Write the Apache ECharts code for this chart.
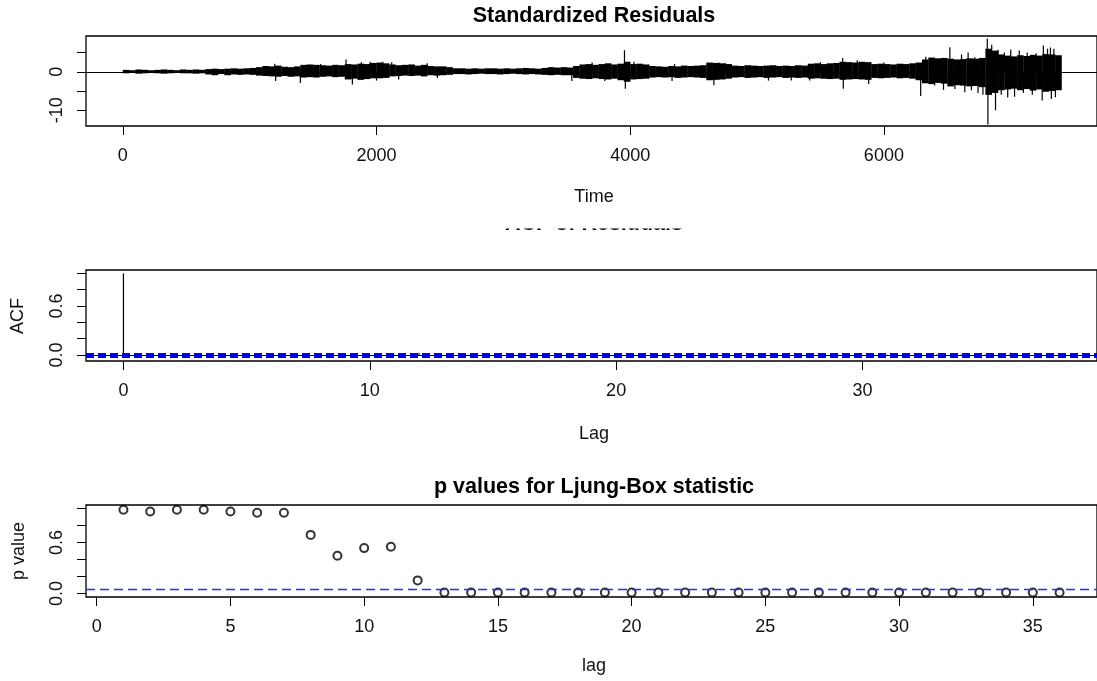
<!DOCTYPE html>
<html><head><meta charset="utf-8">
<script src="https://cdn.jsdelivr.net/npm/echarts@6/dist/echarts.min.js"></script>
<style>html,body{margin:0;padding:0;background:#fff}#c{width:1097px;height:681px}</style>
</head><body><div id="c"></div>
<script>
// ---------- Panel 1: Standardized Residuals (envelope read per 50-step bucket) ----------
const resBucketWidth = 50;
const resCoreHi = [
  0.5,0.4,0.6,0.5,0.4,0.5,0.6,0.5,0.4,0.6,
  0.5,0.6,0.5,0.7,0.8,0.7,0.8,0.9,0.8,0.9,
  1.0,1.2,1.5,1.4,1.6,1.3,1.2,1.4,1.8,1.9,
  1.8,1.7,1.6,1.8,1.7,2.0,1.9,2.1,2.0,2.3,
  2.4,2.2,1.9,1.7,1.8,1.9,1.6,1.8,1.5,1.4,
  1.4,1.2,0.9,0.9,0.8,0.9,0.8,0.9,0.9,0.8,
  0.9,0.8,0.9,1.0,0.9,0.8,1.0,1.2,1.1,1.2,
  1.1,1.5,1.9,2.0,1.8,2.0,2.2,1.9,2.1,2.6,
  2.0,2.1,1.9,1.5,1.4,1.3,1.5,1.4,1.6,1.5,
  1.6,1.7,2.4,2.3,2.2,2.0,1.6,1.5,1.7,1.6,
  1.5,1.6,1.7,1.5,1.6,1.5,1.7,1.6,2.1,2.2,
  2.0,2.2,2.3,2.6,2.5,2.4,2.6,2.5,2.0,2.1,
  2.0,1.9,2.1,2.0,2.2,2.4,3.2,3.7,3.5,3.6,
  3.4,3.2,3.3,3.5,3.4,3.6,6.0,5.5,4.5,4.2,
  4.0,4.3,4.1,4.4,4.2,4.6,4.5,4.3
];
const resCoreLo = [
  -0.4,-0.3,-0.5,-0.4,-0.3,-0.4,-0.5,-0.4,-0.3,-0.4,
  -0.4,-0.5,-0.4,-0.7,-0.9,-0.6,-0.9,-0.7,-0.8,-0.7,
  -0.8,-1.0,-1.1,-1.2,-1.3,-1.1,-1.3,-1.2,-1.5,-1.4,
  -1.5,-1.3,-1.2,-1.4,-1.3,-2.0,-1.8,-2.1,-1.9,-1.7,
  -1.7,-1.6,-1.2,-1.1,-1.0,-1.1,-1.0,-1.2,-0.9,-1.0,
  -0.9,-0.8,-0.6,-0.6,-0.7,-0.6,-0.5,-0.6,-0.6,-0.7,
  -0.6,-0.5,-0.6,-0.7,-0.6,-0.7,-0.8,-0.9,-0.8,-0.9,
  -0.9,-1.6,-1.8,-1.9,-1.7,-1.9,-2.0,-1.8,-2.2,-2.6,
  -2.0,-1.9,-1.8,-1.5,-1.4,-1.5,-1.4,-1.6,-1.5,-1.4,
  -1.5,-1.6,-2.2,-2.1,-2.0,-1.8,-1.5,-1.4,-1.6,-1.5,
  -1.4,-1.6,-1.5,-1.4,-1.6,-1.5,-1.6,-1.5,-1.8,-1.7,
  -1.8,-1.9,-1.8,-2.1,-2.0,-1.9,-2.0,-2.1,-1.6,-1.7,
  -1.6,-1.5,-1.7,-1.6,-1.8,-2.2,-3.0,-3.2,-2.9,-3.1,
  -3.8,-3.5,-3.6,-3.8,-3.7,-4.0,-6.0,-5.5,-4.8,-4.6,
  -4.4,-4.8,-4.5,-4.9,-4.6,-5.2,-5.0,-4.8
];
const resSpikeT = [1198,1205,1400,1560,1760,1810,1880,1950,2000,2050,2120,2175,2400,2480,
  3540,3700,3800,3955,3962,4030,4330,4350,4660,4700,4750,5090,5270,5415,5500,5675,5680,5790,
  5880,6000,6290,6330,6400,6470,6520,6560,6612,6638,6664,6690,6716,6742,6781,6815,6820,6850,
  6880,6900,6925,6950,6976,7000,7030,7067,7100,7130,7170,7200,7248,7257,7290,7313,7320,7340,7352];
const resSpikeV = [2.1,-2.4,-2.9,2.0,3.2,-3.3,2.5,2.6,-2.3,2.6,2.5,-2.0,2.2,-1.6,
  -2.4,2.4,-2.4,5.6,-4.4,2.6,-2.4,2.0,-3.5,2.4,2.2,-2.3,-2.3,-2.3,2.5,3.6,-4.4,3.0,
  -3.2,2.4,-6.3,3.9,-3.6,-4.7,6.4,-4.5,4.5,-5.3,5.0,-4.8,3.8,-5.5,-6.0,8.6,-13.7,7.0,
  -10.0,5.7,-6.0,5.0,-6.7,5.8,-6.5,5.5,-5.5,5.0,-6.0,4.8,-7.5,6.8,6.0,6.3,-7.1,6.0,-6.6];
const resTimeTicks = [0, 2000, 4000, 6000];
const resYTicks = [-10, -5, 0, 5];
const resYLabels = [-10, 0];

// ---------- Panel 2: ACF of Residuals ----------
const acfLags = [0,1,2,3,4,5,6,7,8,9,10,11,12,13,14,15,16,17,18,19,20,21,22,23,24,25,26,27,28,29,30,31,32,33,34,35,36,37,38];
const acfValues = [1,0.005,-0.004,0.003,-0.006,0.004,-0.003,-0.012,0.006,0.002,-0.005,0.004,0.022,-0.012,0.003,
  -0.004,0.002,-0.011,-0.003,0.005,0.012,-0.004,-0.012,0.003,0.004,-0.006,0.009,0.018,-0.010,0.004,
  -0.003,0.002,-0.005,0.004,0.003,0.006,0.025,-0.003,0.004];
const acfCI = 0.023;
const acfXTicks = [0, 10, 20, 30];
const unitTicks = [0, 0.2, 0.4, 0.6, 0.8, 1.0];
const unitLabels = [0, 0.6];

// ---------- Panel 3: p values for Ljung-Box statistic ----------
const lbLags = [1,2,3,4,5,6,7,8,9,10,11,12,13,14,15,16,17,18,19,20,21,22,23,24,25,26,27,28,29,30,31,32,33,34,35,36];
const lbPValues = [0.984,0.964,0.984,0.984,0.964,0.949,0.949,0.689,0.445,0.534,0.550,0.155,
  0.012,0.012,0.012,0.012,0.012,0.012,0.012,0.012,0.012,0.012,0.012,0.012,
  0.012,0.012,0.012,0.012,0.012,0.012,0.012,0.012,0.012,0.012,0.012,0.012];
const lbThreshold = 0.05;
const lbXTicks = [0, 5, 10, 15, 20, 25, 30, 35];

// ---------- chart ----------
const FONT = '"Liberation Sans", Arial, sans-serif';
const TXT = '#111';
const chart = echarts.init(document.getElementById('c'), null, {renderer: 'canvas'});

function xAx(gi, min, max, ticks) {
  return {type: 'value', gridIndex: gi, min: min, max: max, position: 'bottom',
    axisLine: {show: false, onZero: false}, splitLine: {show: false},
    axisTick: {show: true, inside: false, length: 9, customValues: ticks, lineStyle: {color: '#000', width: 1}},
    axisLabel: {show: true, customValues: ticks, margin: 21, color: TXT, fontSize: 18, fontFamily: FONT,
      formatter: v => String(v)}};
}
function yAx(gi, min, max, ticks, labels, fmt) {
  return {type: 'value', gridIndex: gi, min: min, max: max, position: 'left',
    axisLine: {show: false, onZero: false}, splitLine: {show: false},
    axisTick: {show: true, inside: false, length: 9, customValues: ticks, lineStyle: {color: '#000', width: 1}},
    axisLabel: {show: true, customValues: labels, rotate: 90, margin: 20, color: TXT, fontSize: 18, fontFamily: FONT,
      formatter: fmt}};
}
const gridBase = {show: true, borderColor: '#000', borderWidth: 1.3, backgroundColor: 'transparent', containLabel: false};

const coreData = resCoreHi.map((h, i) => [i * resBucketWidth, resCoreLo[i], h]);
const spikeData = resSpikeT.map((t, i) => [t, resSpikeV[i]]);
const acfData = acfLags.map((l, i) => [l, acfValues[i]]);
const lbData = lbLags.map((l, i) => [l, lbPValues[i]]);

function vline(params, api) {
  const a = api.coord([api.value(0), 0]);
  const b = api.coord([api.value(0), api.value(1)]);
  return {type: 'line', shape: {x1: a[0], y1: a[1], x2: b[0], y2: b[1]}, style: {stroke: '#000', lineWidth: 1.2}};
}

const option = {
  animation: false,
  backgroundColor: '#fff',
  grid: [
    Object.assign({left: 86, top: 36, width: 1022, height: 90}, gridBase),
    Object.assign({left: 86, top: 270, width: 1020, height: 91}, gridBase),
    Object.assign({left: 86, top: 505, width: 1022, height: 92}, gridBase)
  ],
  xAxis: [
    xAx(0, -290, 7680, resTimeTicks),
    xAx(1, -1.52, 39.52, acfXTicks),
    xAx(2, -0.4, 37.4, lbXTicks)
  ],
  yAxis: [
    yAx(0, -14.1, 9.3, resYTicks, resYLabels, v => String(v)),
    yAx(1, -0.075, 1.041, unitTicks, unitLabels, v => v.toFixed(1)),
    yAx(2, -0.04, 1.04, unitTicks, unitLabels, v => v.toFixed(1))
  ],
  series: [
    {type: 'custom', xAxisIndex: 0, yAxisIndex: 0, data: coreData, encode: {x: 0, y: [1, 2]},
      renderItem: function (params, api) {
        const t0 = api.value(0);
        const p1 = api.coord([t0, api.value(2)]);
        const p2 = api.coord([t0 + resBucketWidth, api.value(1)]);
        return {type: 'rect', shape: {x: p1[0], y: p1[1], width: p2[0] - p1[0] + 0.3, height: p2[1] - p1[1]},
          style: {fill: '#000'}};
      },
      markLine: {silent: true, symbol: ['none', 'none'], label: {show: false},
        lineStyle: {color: '#000', type: 'solid', width: 1}, data: [{yAxis: 0}]}
    },
    {type: 'custom', xAxisIndex: 0, yAxisIndex: 0, data: spikeData, encode: {x: 0, y: 1}, renderItem: vline},
    {type: 'custom', xAxisIndex: 1, yAxisIndex: 1, data: acfData, encode: {x: 0, y: 1}, renderItem: vline,
      markLine: {silent: true, symbol: ['none', 'none'], label: {show: false},
        data: [
          {yAxis: 0, lineStyle: {color: '#000', type: 'solid', width: 1}},
          {yAxis: acfCI, lineStyle: {color: '#0000ff', type: [8, 4], width: 1.8}},
          {yAxis: -acfCI, lineStyle: {color: '#0000ff', type: [8, 4], width: 1.8}}
        ]}
    },
    {type: 'scatter', xAxisIndex: 2, yAxisIndex: 2, data: lbData, symbol: 'emptyCircle', symbolSize: 8,
      itemStyle: {color: '#000', borderColor: '#000', borderWidth: 1.05},
      markLine: {silent: true, symbol: ['none', 'none'], label: {show: false},
        lineStyle: {color: '#2b2bff', type: [9, 5], width: 1.3}, data: [{yAxis: lbThreshold}]}
    }
  ],
  graphic: [
    {type: 'text', x: 594, y: 16, style: {text: 'Standardized Residuals', font: 'bold 21.5px ' + FONT, fill: '#000',
      textAlign: 'center', textVerticalAlign: 'middle'}},
    {type: 'text', x: 594, y: 197, style: {text: 'Time', font: '18px ' + FONT, fill: TXT, textAlign: 'center', textVerticalAlign: 'middle'}},
    {type: 'text', x: 594, y: 224, z: 1, style: {text: 'ACF of Residuals', font: 'bold 21.5px ' + FONT, fill: '#000',
      textAlign: 'center', textVerticalAlign: 'middle'}},
    {type: 'rect', z: 5, shape: {x: 470, y: 207, width: 250, height: 21.5}, style: {fill: '#fff'}},
    {type: 'text', x: 594, y: 434, style: {text: 'Lag', font: '18px ' + FONT, fill: TXT, textAlign: 'center', textVerticalAlign: 'middle'}},
    {type: 'text', x: 18, y: 316, rotation: Math.PI / 2, style: {text: 'ACF', font: '18px ' + FONT, fill: TXT, textAlign: 'center', textVerticalAlign: 'middle'}},
    {type: 'text', x: 594, y: 487, style: {text: 'p values for Ljung-Box statistic', font: 'bold 21.5px ' + FONT, fill: '#000',
      textAlign: 'center', textVerticalAlign: 'middle'}},
    {type: 'text', x: 594, y: 666, style: {text: 'lag', font: '18px ' + FONT, fill: TXT, textAlign: 'center', textVerticalAlign: 'middle'}},
    {type: 'text', x: 19, y: 551, rotation: Math.PI / 2, style: {text: 'p value', font: '18px ' + FONT, fill: TXT, textAlign: 'center', textVerticalAlign: 'middle'}}
  ]
};
chart.setOption(option);
</script>
</body></html>
